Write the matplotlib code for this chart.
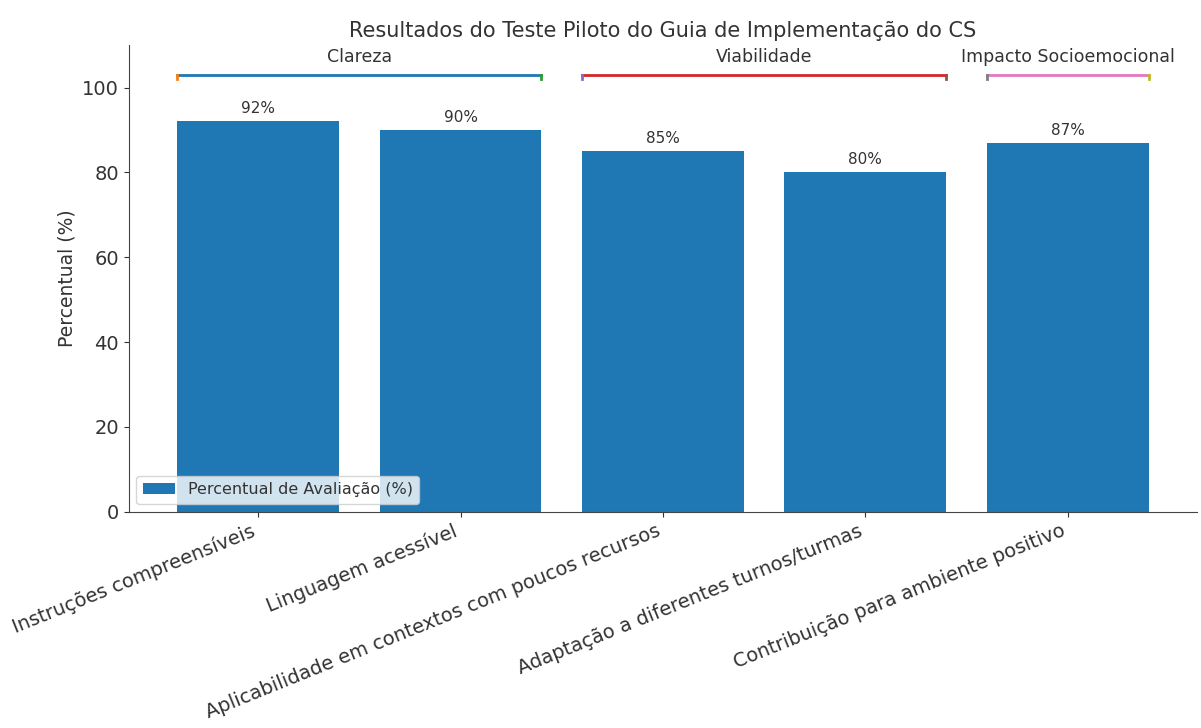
import matplotlib
matplotlib.use("Agg")
import matplotlib.pyplot as plt

categories = ["Instruções compreensíveis", "Linguagem acessível",
              "Aplicabilidade em contextos com poucos recursos",
              "Adaptação a diferentes turnos/turmas",
              "Contribuição para ambiente positivo"]
values = [92, 90, 85, 80, 87]
groups = ["Clareza", "Viabilidade", "Impacto Socioemocional"]
group_ranges = [(0, 1), (2, 3), (4, 4)]
group_colors = ["#1f77b4", "#d62728", "#e377c2"]
tick_colors = [("#ff7f0e", "#2ca02c"), ("#9467bd", "#8c564b"), ("#7f7f7f", "#bcbd22")]

text_color = "#333333"
plt.rcParams['font.family'] = ['DejaVu Sans']
plt.rcParams['text.color'] = text_color
plt.rcParams['axes.labelcolor'] = text_color
plt.rcParams['xtick.color'] = text_color
plt.rcParams['ytick.color'] = text_color

fig = plt.figure(figsize=(12.01, 7.28), dpi=100)
ax = fig.add_axes([0.107, 0.297, 0.89, 0.641])

x = list(range(len(categories)))
ax.bar(x, values, width=0.8, color="#1f77b4", label="Percentual de Avaliação (%)")
for xi, v in zip(x, values):
    ax.text(xi, v + 1.2, f"{v}%", ha="center", va="bottom", fontsize=11)

ax.set_ylim(0, 110)
ax.set_xticks(x)
ax.set_xticklabels(categories, rotation=22, ha="right", fontsize=14)
ax.tick_params(axis="y", labelsize=14)
ax.set_ylabel("Percentual (%)", fontsize=13.5)
ax.set_title("Resultados do Teste Piloto do Guia de Implementação do CS", fontsize=15, pad=6)

for sp in ["top", "right"]:
    ax.spines[sp].set_visible(False)
for sp in ["left", "bottom"]:
    ax.spines[sp].set_color("#444444")

y_line = 103
for (a, b), g, c, (tc1, tc2) in zip(group_ranges, groups, group_colors, tick_colors):
    x0, x1 = a - 0.4, b + 0.4
    ax.plot([x0, x1], [y_line, y_line], color=c, lw=2)
    ax.plot([x0, x0], [y_line - 1, y_line], color=tc1, lw=2)
    ax.plot([x1, x1], [y_line - 1, y_line], color=tc2, lw=2)
    ax.text((x0 + x1) / 2, y_line + 2, g, ha="center", va="bottom", fontsize=12.5)

ax.legend(loc="lower left", fontsize=11.5, handlelength=2)
fig.savefig("out.png", dpi=100)
